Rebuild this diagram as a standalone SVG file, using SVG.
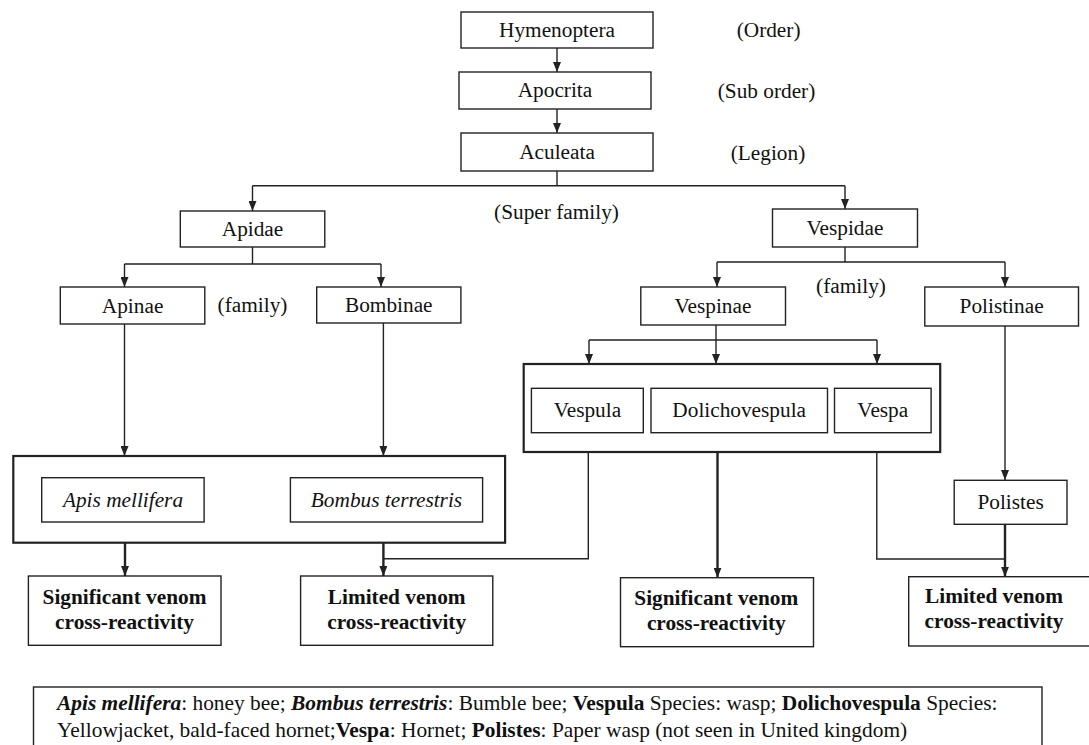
<svg xmlns="http://www.w3.org/2000/svg" width="1089" height="745" viewBox="0 0 1089 745">
<defs>
<marker id="ah" viewBox="0 0 10 8" refX="10" refY="4" markerWidth="10" markerHeight="8" markerUnits="userSpaceOnUse" orient="auto">
<path d="M0,0 L10,4 L0,8 z" fill="#222"/>
</marker>
<style>
.b{fill:#fff;stroke:#222;stroke-width:1.4}
.bb{fill:#fff;stroke:#222;stroke-width:2.2}
.t{font-family:"Liberation Serif","Times New Roman",serif;font-size:21.3px;fill:#111;text-anchor:middle}
.i{font-style:italic}
.bt{font-family:"Liberation Serif","Times New Roman",serif;font-size:21.3px;font-weight:bold;fill:#111;text-anchor:middle}
.f{font-family:"Liberation Serif","Times New Roman",serif;font-size:21.4px;fill:#111}
.c{fill:none;stroke:#222;stroke-width:1.4}
.ca{fill:none;stroke:#222;stroke-width:1.4;marker-end:url(#ah)}
.cta{fill:none;stroke:#222;stroke-width:2.4;marker-end:url(#ah)}
</style>
</defs>
<rect width="1089" height="745" fill="#fff"/>

<g id="connectors">
<path class="ca" d="M557,48 V72"/>
<path class="ca" d="M557,109 V133"/>
<path class="c" d="M557,171 V185.7 M252.5,185.7 H845"/>
<path class="ca" d="M252.5,185.7 V211"/>
<path class="ca" d="M845,185.7 V209"/>
<path class="c" d="M252.5,247 V264 M124.5,264 H381"/>
<path class="ca" d="M124.5,264 V287"/>
<path class="ca" d="M381,264 V287"/>
<path class="c" d="M845,247 V262 M717,262 H1005"/>
<path class="ca" d="M717,262 V287"/>
<path class="ca" d="M1005,262 V287"/>
<path class="ca" d="M124.5,324 V456"/>
<path class="ca" d="M383.4,323 V456"/>
<path class="c" d="M716,325 V340 M589,340 H877"/>
<path class="ca" d="M589,340 V364"/>
<path class="ca" d="M716,340 V364"/>
<path class="ca" d="M877,340 V364"/>
<path class="ca" d="M1005,326 V480"/>
<path class="cta" d="M125,543 V576"/>
<path class="cta" d="M383.4,543 V576"/>
<path class="c" d="M588.3,452 V558.7 H383.4"/>
<path class="cta" d="M717.5,452 V577.7"/>
<path class="c" d="M876.8,452 V559 H1005"/>
<path class="cta" d="M1005,524.3 V576.7"/>
</g>

<g id="hymenoptera"><rect class="b" x="461" y="12" width="192" height="36"/><text class="t" x="557" y="37">Hymenoptera</text></g>
<g id="apocrita"><rect class="b" x="459" y="72" width="192" height="37"/><text class="t" x="555" y="97">Apocrita</text></g>
<g id="aculeata"><rect class="b" x="461" y="133" width="192" height="38"/><text class="t" x="557" y="159">Aculeata</text></g>
<g id="lbl-order"><text class="t" x="768.6" y="37">(Order)</text></g>
<g id="lbl-suborder"><text class="t" x="766.5" y="98">(Sub order)</text></g>
<g id="lbl-legion"><text class="t" x="768" y="160">(Legion)</text></g>
<g id="lbl-superfamily"><text class="t" x="556.5" y="219">(Super family)</text></g>

<g id="apidae"><rect class="b" x="180.3" y="211" width="144.5" height="36"/><text class="t" x="252.5" y="236">Apidae</text></g>
<g id="vespidae"><rect class="b" x="772.5" y="209" width="145" height="38"/><text class="t" x="845" y="235">Vespidae</text></g>

<g id="apinae"><rect class="b" x="60.3" y="287" width="144.5" height="37"/><text class="t" x="132.6" y="313">Apinae</text></g>
<g id="lbl-family-1"><text class="t" x="252.5" y="312">(family)</text></g>
<g id="bombinae"><rect class="b" x="316.7" y="287" width="144.2" height="36"/><text class="t" x="388.8" y="312">Bombinae</text></g>
<g id="vespinae"><rect class="b" x="640.8" y="287" width="144.7" height="38"/><text class="t" x="713" y="313">Vespinae</text></g>
<g id="lbl-family-2"><text class="t" x="851" y="293">(family)</text></g>
<g id="polistinae"><rect class="b" x="924.8" y="287" width="153.7" height="39"/><text class="t" x="1001.6" y="313">Polistinae</text></g>

<g id="bee-group">
<rect class="bb" x="13.3" y="456" width="491.8" height="86.7"/>
<g id="apis"><rect class="b" x="41.7" y="477.7" width="162.4" height="44.3"/><text class="t i" x="123" y="507">Apis mellifera</text></g>
<g id="bombus"><rect class="b" x="290.4" y="477.7" width="192.2" height="44.3"/><text class="t i" x="386.5" y="507">Bombus terrestris</text></g>
</g>

<g id="vespinae-group">
<rect class="bb" x="523.7" y="364" width="416.5" height="88"/>
<g id="vespula"><rect class="b" x="531.4" y="388.3" width="111.9" height="44.4"/><text class="t" x="587.4" y="417">Vespula</text></g>
<g id="dolichovespula"><rect class="b" x="651" y="388.3" width="176.5" height="44.4"/><text class="t" x="739.2" y="417">Dolichovespula</text></g>
<g id="vespa"><rect class="b" x="834.5" y="388.3" width="96.6" height="44.4"/><text class="t" x="882.8" y="417">Vespa</text></g>
</g>

<g id="polistes"><rect class="b" x="954.2" y="480.3" width="112.8" height="44"/><text class="t" x="1010.6" y="508.5">Polistes</text></g>

<g id="significant-1"><rect class="b" x="28.4" y="576" width="192.6" height="69.3"/><text class="bt" x="124.5" y="604">Significant venom</text><text class="bt" x="124.5" y="629">cross-reactivity</text></g>
<g id="limited-1"><rect class="b" x="300.6" y="576" width="192.2" height="69.3"/><text class="bt" x="396.7" y="604">Limited venom</text><text class="bt" x="396.7" y="629">cross-reactivity</text></g>
<g id="significant-2"><rect class="b" x="620.5" y="577.7" width="193" height="69"/><text class="bt" x="716.3" y="605">Significant venom</text><text class="bt" x="716.3" y="630">cross-reactivity</text></g>
<g id="limited-2"><rect class="b" x="908.7" y="576.7" width="190" height="69.3"/><text class="bt" x="994" y="603">Limited venom</text><text class="bt" x="994" y="628">cross-reactivity</text></g>

<g id="legend">
<rect class="b" x="33.5" y="687" width="1008.5" height="80"/>
<text class="f" x="57" y="710"><tspan font-style="italic" font-weight="bold">Apis mellifera</tspan>: honey bee; <tspan font-style="italic" font-weight="bold">Bombus terrestris</tspan>: Bumble bee; <tspan font-weight="bold">Vespula</tspan> Species: wasp; <tspan font-weight="bold">Dolichovespula</tspan> Species:</text>
<text class="f" x="57" y="737">Yellowjacket, bald-faced hornet;<tspan font-weight="bold">Vespa</tspan>: Hornet; <tspan font-weight="bold">Polistes</tspan>: Paper wasp (not seen in United kingdom)</text>
</g>
</svg>
